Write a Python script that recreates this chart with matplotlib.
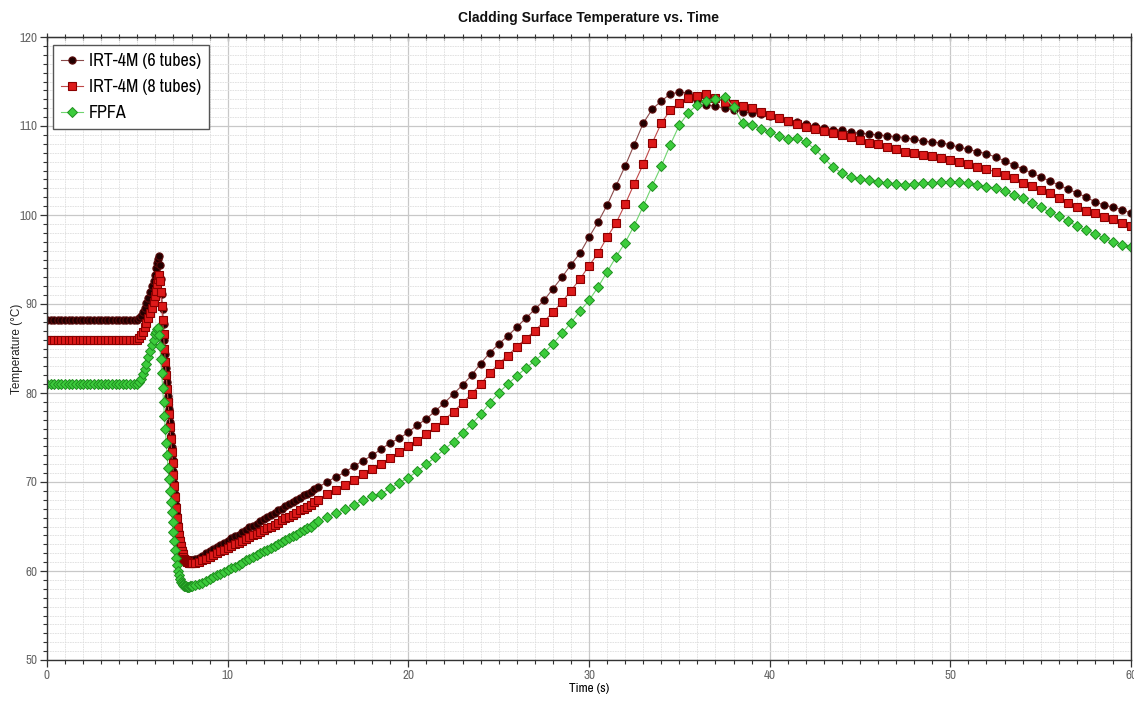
import numpy as np
import matplotlib
matplotlib.use('Agg')
import matplotlib.pyplot as plt
from matplotlib import font_manager
from matplotlib.ticker import MultipleLocator

# sampling grid of the transient output (s)
t_flat = np.linspace(0.0, 4.8, 25)
t_rise = np.linspace(5.0, 5.9, 10)
t_drop = np.linspace(6.0, 7.95, 40)
t_rec = np.linspace(8.0, 14.8, 35)
t_slow = np.linspace(15.0, 60.0, 91)
time = np.concatenate([t_flat, t_rise, t_drop, t_rec, t_slow])

# IRT-4M (6 tubes)
irt6_flat = [88.2] * 25
irt6_rise = [88.2, 88.4, 88.7, 89.1, 89.6, 90.1, 90.7, 91.3, 92.0, 92.6]
irt6_drop = [93.3, 94.0, 94.6, 95.1, 95.4, 94.4, 92.8, 91.1, 89.4, 87.7,
             86.0, 84.4, 82.8, 81.2, 79.7, 78.2, 76.7, 75.3, 73.9, 72.5,
             71.2, 69.9, 68.6, 67.4, 66.3, 65.3, 64.4, 63.7, 63.1, 62.6,
             62.2, 61.9, 61.7, 61.5, 61.4, 61.3, 61.2, 61.2, 61.2, 61.2]
irt6_rec = [61.2, 61.3, 61.5, 61.7, 62.0, 62.2, 62.5, 62.7, 62.9, 63.2,
            63.4, 63.7, 63.9, 64.1, 64.4, 64.6, 64.9, 65.1, 65.3, 65.6,
            65.8, 66.1, 66.3, 66.5, 66.8, 67.0, 67.3, 67.5, 67.7, 68.0,
            68.2, 68.5, 68.7, 68.9, 69.2]
irt6_slow = [69.4, 70.0, 70.6, 71.1, 71.8, 72.4, 73.0, 73.7, 74.4, 74.9,
             75.6, 76.4, 77.1, 78.0, 78.9, 79.9, 80.9, 82.0, 83.3, 84.5,
             85.5, 86.4, 87.4, 88.4, 89.4, 90.4, 91.7, 93.0, 94.4, 95.7,
             97.5, 99.2, 101.1, 103.3, 105.5, 107.9, 110.3, 111.9, 112.8, 113.6,
             113.8, 113.7, 112.9, 112.4, 112.2, 112.0, 111.8, 111.6, 111.5, 111.3,
             111.1, 110.9, 110.6, 110.4, 110.2, 110.0, 109.8, 109.6, 109.5, 109.3,
             109.2, 109.1, 109.0, 108.9, 108.8, 108.7, 108.5, 108.3, 108.2, 108.1,
             107.9, 107.6, 107.4, 107.1, 106.9, 106.5, 106.1, 105.6, 105.2, 104.7,
             104.3, 103.8, 103.4, 102.9, 102.5, 102.0, 101.5, 101.1, 100.9, 100.6,
             100.2]

# IRT-4M (8 tubes)
irt8_flat = [86.0] * 25
irt8_rise = [86.0, 86.2, 86.5, 86.9, 87.4, 87.9, 88.4, 89.0, 89.6, 90.2]
irt8_drop = [90.9, 91.5, 92.2, 92.8, 93.3, 92.6, 91.3, 89.8, 88.2, 86.6,
             85.0, 83.5, 82.0, 80.5, 79.0, 77.6, 76.2, 74.8, 73.4, 72.1,
             70.8, 69.5, 68.3, 67.1, 66.0, 65.0, 64.1, 63.4, 62.8, 62.3,
             61.9, 61.6, 61.4, 61.2, 61.1, 61.0, 61.0, 60.9, 60.9, 60.9]
irt8_rec = [60.9, 60.9, 61.0, 61.2, 61.4, 61.6, 61.8, 62.0, 62.2, 62.4,
            62.6, 62.8, 63.0, 63.2, 63.4, 63.6, 63.8, 64.0, 64.2, 64.4,
            64.6, 64.8, 65.0, 65.2, 65.4, 65.7, 65.9, 66.1, 66.3, 66.5,
            66.8, 67.0, 67.2, 67.4, 67.7]
irt8_slow = [68.0, 68.6, 69.1, 69.7, 70.2, 70.9, 71.5, 72.0, 72.7, 73.4,
             74.0, 74.6, 75.4, 76.2, 77.0, 77.9, 78.9, 79.9, 81.0, 82.2,
             83.3, 84.2, 85.2, 86.1, 87.0, 88.0, 89.1, 90.2, 91.5, 92.8,
             94.3, 95.7, 97.5, 99.1, 101.2, 103.5, 105.7, 108.1, 110.3, 111.8,
             112.6, 113.1, 113.4, 113.6, 113.1, 112.7, 112.5, 112.2, 112.0, 111.6,
             111.2, 110.9, 110.6, 110.2, 109.9, 109.7, 109.4, 109.2, 109.0, 108.8,
             108.4, 108.1, 108.0, 107.6, 107.4, 107.1, 107.0, 106.7, 106.6, 106.4,
             106.2, 106.0, 105.7, 105.4, 105.2, 104.8, 104.5, 104.2, 103.6, 103.3,
             102.8, 102.5, 101.9, 101.3, 100.9, 100.4, 100.2, 99.8, 99.6, 99.1,
             98.8]

# FPFA
fpfa_flat = [81.0] * 25
fpfa_rise = [81.0, 81.2, 81.6, 82.1, 82.7, 83.3, 84.0, 84.7, 85.4, 86.0]
fpfa_drop = [86.6, 86.9, 87.2, 87.3, 86.5, 85.3, 83.8, 82.2, 80.6, 79.0,
             77.4, 75.9, 74.4, 73.0, 71.6, 70.3, 69.0, 67.8, 66.6, 65.5,
             64.4, 63.4, 62.4, 61.5, 60.7, 60.0, 59.5, 59.1, 58.8, 58.6,
             58.5, 58.4, 58.35, 58.3, 58.3, 58.25, 58.25, 58.25, 58.3, 58.3]
fpfa_rec = [58.3, 58.4, 58.5, 58.7, 58.9, 59.1, 59.3, 59.5, 59.7, 59.9,
            60.1, 60.3, 60.5, 60.7, 60.9, 61.2, 61.4, 61.6, 61.8, 62.0,
            62.2, 62.4, 62.6, 62.8, 63.0, 63.3, 63.5, 63.7, 63.9, 64.1,
            64.4, 64.6, 64.8, 65.0, 65.3]
fpfa_slow = [65.6, 66.1, 66.5, 67.0, 67.4, 68.0, 68.4, 68.7, 69.3, 69.9,
             70.5, 71.2, 72.0, 72.8, 73.7, 74.5, 75.5, 76.5, 77.6, 78.9,
             80.0, 81.0, 81.9, 82.8, 83.6, 84.5, 85.5, 86.7, 87.9, 89.2,
             90.4, 91.9, 93.6, 95.3, 96.9, 98.8, 101.0, 103.3, 105.5, 107.9,
             110.1, 111.5, 112.4, 112.8, 113.0, 113.3, 112.1, 110.3, 110.1, 109.7,
             109.3, 108.9, 108.5, 108.6, 108.2, 107.4, 106.4, 105.4, 104.7, 104.3,
             104.0, 103.9, 103.7, 103.6, 103.5, 103.4, 103.5, 103.6, 103.6, 103.7,
             103.7, 103.7, 103.6, 103.4, 103.2, 103.0, 102.7, 102.2, 101.9, 101.3,
             100.9, 100.3, 99.9, 99.3, 98.8, 98.3, 97.9, 97.4, 97.0, 96.6,
             96.4]

irt6 = irt6_flat + irt6_rise + irt6_drop + irt6_rec + irt6_slow
irt8 = irt8_flat + irt8_rise + irt8_drop + irt8_rec + irt8_slow
fpfa = fpfa_flat + fpfa_rise + fpfa_drop + fpfa_rec + fpfa_slow

labels = ['IRT-4M (6 tubes)', 'IRT-4M (8 tubes)', 'FPFA']

# pick a narrow face if one is installed, the reference uses a condensed font
installed = font_manager.fontManager.ttflist
narrow = dict(family=['Roboto', 'DejaVu Sans'])
for f in sorted(installed, key=lambda f: f.name):
    if 'Narrow' in f.name or 'Condensed' in f.name:
        narrow = dict(family=[f.name, 'DejaVu Sans'])
        break

fig = plt.figure(figsize=(11.34, 7.02), dpi=100)
ax = fig.add_axes([47 / 1134, 42 / 702, 1084 / 1134, 623 / 702])

ax.plot(time, irt6, '-o', color='#8a4a4a', lw=0.8, ms=5.2,
        mfc='#220000', mec='#5a0a0a', mew=0.8, label=labels[0])
ax.plot(time, irt8, '-s', color='#c04848', lw=0.8, ms=6,
        mfc='#dd1a1a', mec='#8a0000', mew=0.8, label=labels[1])
ax.plot(time, fpfa, '-D', color='#6fd46f', lw=0.8, ms=4.8,
        mfc='#3ccc3c', mec='#1f8f1f', mew=0.7, label=labels[2])

ax.set_xlim(0, 60)
ax.set_ylim(50, 120)
ax.xaxis.set_major_locator(MultipleLocator(10))
ax.xaxis.set_minor_locator(MultipleLocator(1))
ax.yaxis.set_major_locator(MultipleLocator(10))
ax.yaxis.set_minor_locator(MultipleLocator(1))

ax.grid(which='major', color='#c8c8c8', lw=0.9)
ax.grid(which='minor', color='#dedede', lw=0.6, ls=(0, (2, 1)))
ax.set_axisbelow(True)

ax.tick_params(which='major', direction='out', length=5, width=0.9,
               color='#333333', labelsize=9.5, labelcolor='#666666', pad=2)
ax.tick_params(which='minor', direction='out', length=3, width=0.8, color='#333333')
for lbl in ax.get_xticklabels() + ax.get_yticklabels():
    lbl.set_family(narrow['family'])
for side in ['left', 'bottom', 'top', 'right']:
    ax.spines[side].set_color('#333333')
    ax.spines[side].set_linewidth(1.0)

# ticks along the top edge as well
top = ax.secondary_xaxis('top')
top.xaxis.set_major_locator(MultipleLocator(10))
top.xaxis.set_minor_locator(MultipleLocator(1))
top.tick_params(which='major', direction='inout', length=6, width=0.9,
                color='#333333', labeltop=False)
top.tick_params(which='minor', direction='inout', length=4, width=0.8,
                color='#333333')

ax.set_title('Cladding Surface Temperature vs. Time', pad=11, color='#111111',
             family=['Liberation Sans', 'DejaVu Sans'], fontweight='bold', fontsize=10)
ax.set_xlabel('Time (s)', fontsize=9.5, family=narrow['family'], labelpad=2)
ax.set_ylabel('Temperature (\u00b0C)', fontsize=8.5, family=['Liberation Sans', 'DejaVu Sans'],
              color='#222222')
ax.yaxis.set_label_coords(-24 / 1084, 0.5)

leg = ax.legend(loc='upper left', bbox_to_anchor=(6 / 1084, 1 - 8 / 623),
                borderaxespad=0, fancybox=False, framealpha=1, edgecolor='#555555',
                prop={'family': narrow['family'], 'size': 13},
                handlelength=1.2, handletextpad=0.35, labelspacing=0.55, borderpad=0.45)
leg.get_frame().set_linewidth(1.0)

fig.savefig('out.png', dpi=100)
